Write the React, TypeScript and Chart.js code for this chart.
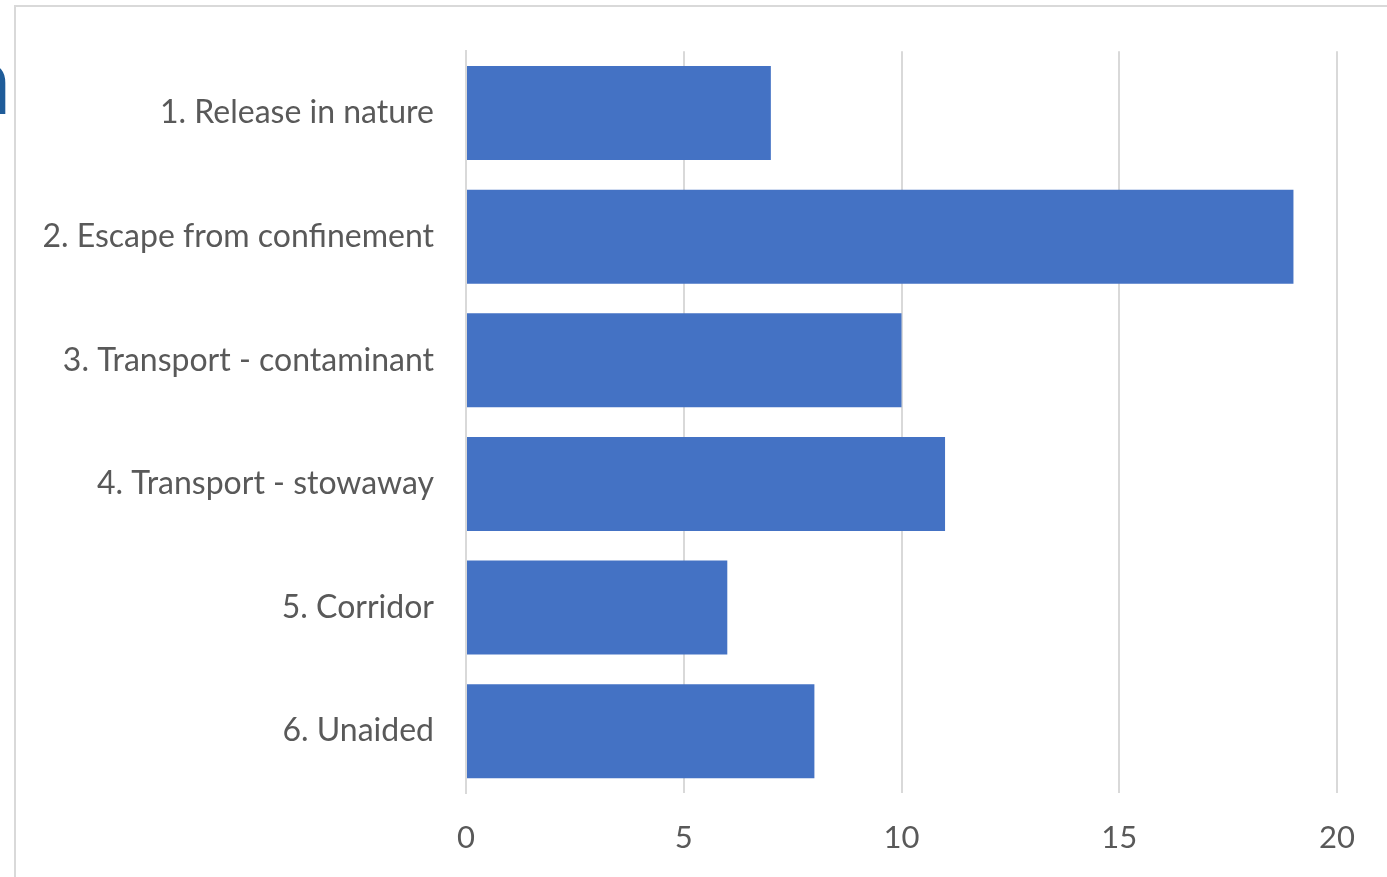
import React, { useEffect, useRef } from "react";
import { Chart, registerables } from "chart.js";

Chart.register(...registerables);

const categories = [
  "1. Release in nature",
  "2. Escape from confinement",
  "3. Transport - contaminant",
  "4. Transport - stowaway",
  "5. Corridor",
  "6. Unaided",
];
const values = [7, 19, 10, 11, 6, 8];
const xTicks = [0, 5, 10, 15, 20];

const FONT = "Lato, 'Open Sans', sans-serif";

export default function App() {
  const ref = useRef<HTMLCanvasElement | null>(null);

  useEffect(() => {
    if (!ref.current) return;
    const chart = new Chart(ref.current, {
      type: "bar",
      data: {
        labels: categories,
        datasets: [
          {
            data: values,
            backgroundColor: "#4472C4",
            borderWidth: 0,
            categoryPercentage: 0.76,
            barPercentage: 1,
          },
        ],
      },
      options: {
        indexAxis: "y",
        animation: false,
        responsive: false,
        maintainAspectRatio: false,
        layout: { padding: { top: 50, right: 50, left: 0, bottom: 0 } },
        plugins: { legend: { display: false }, tooltip: { enabled: false } },
        scales: {
          x: {
            min: 0,
            max: 20,
            afterBuildTicks: (axis: any) => {
              axis.ticks = xTicks.map((v) => ({ value: v }));
            },
            afterFit: (axis: any) => {
              axis.height = 84;
            },
            grid: { color: "#d9d9d9", lineWidth: 2, drawTicks: false },
            border: { display: false },
            ticks: {
              padding: 26,
              color: "#595959",
              font: { family: FONT, size: 31 },
            },
          },
          y: {
            afterFit: (axis: any) => {
              axis.width = 466;
            },
            grid: { display: false, drawTicks: false },
            border: { display: true, color: "#d9d9d9", width: 2 },
            ticks: {
              padding: 32,
              color: "#595959",
              font: { family: FONT, size: 32 },
            },
          },
        },
      },
    });
    return () => chart.destroy();
  }, []);

  return (
    <div
      style={{
        position: "fixed",
        left: 0,
        top: 0,
        width: 1387,
        height: 877,
        overflow: "hidden",
        background: "#fff",
      }}
    >
      <div
        style={{
          position: "absolute",
          left: 14,
          top: 5,
          width: 1500,
          height: 1000,
          border: "2px solid #d9d9d9",
          boxSizing: "border-box",
        }}
      />
      <div
        style={{
          position: "absolute",
          left: -59,
          top: 22,
          width: 70,
          textAlign: "right",
          fontFamily: FONT,
          fontSize: 96,
          fontWeight: 600,
          color: "#1F5C99",
          lineHeight: "110px",
        }}
      >
        n
      </div>
      <canvas
        ref={ref}
        width={1387}
        height={877}
        style={{ position: "absolute", left: 0, top: 0, width: 1387, height: 877 }}
      />
    </div>
  );
}
